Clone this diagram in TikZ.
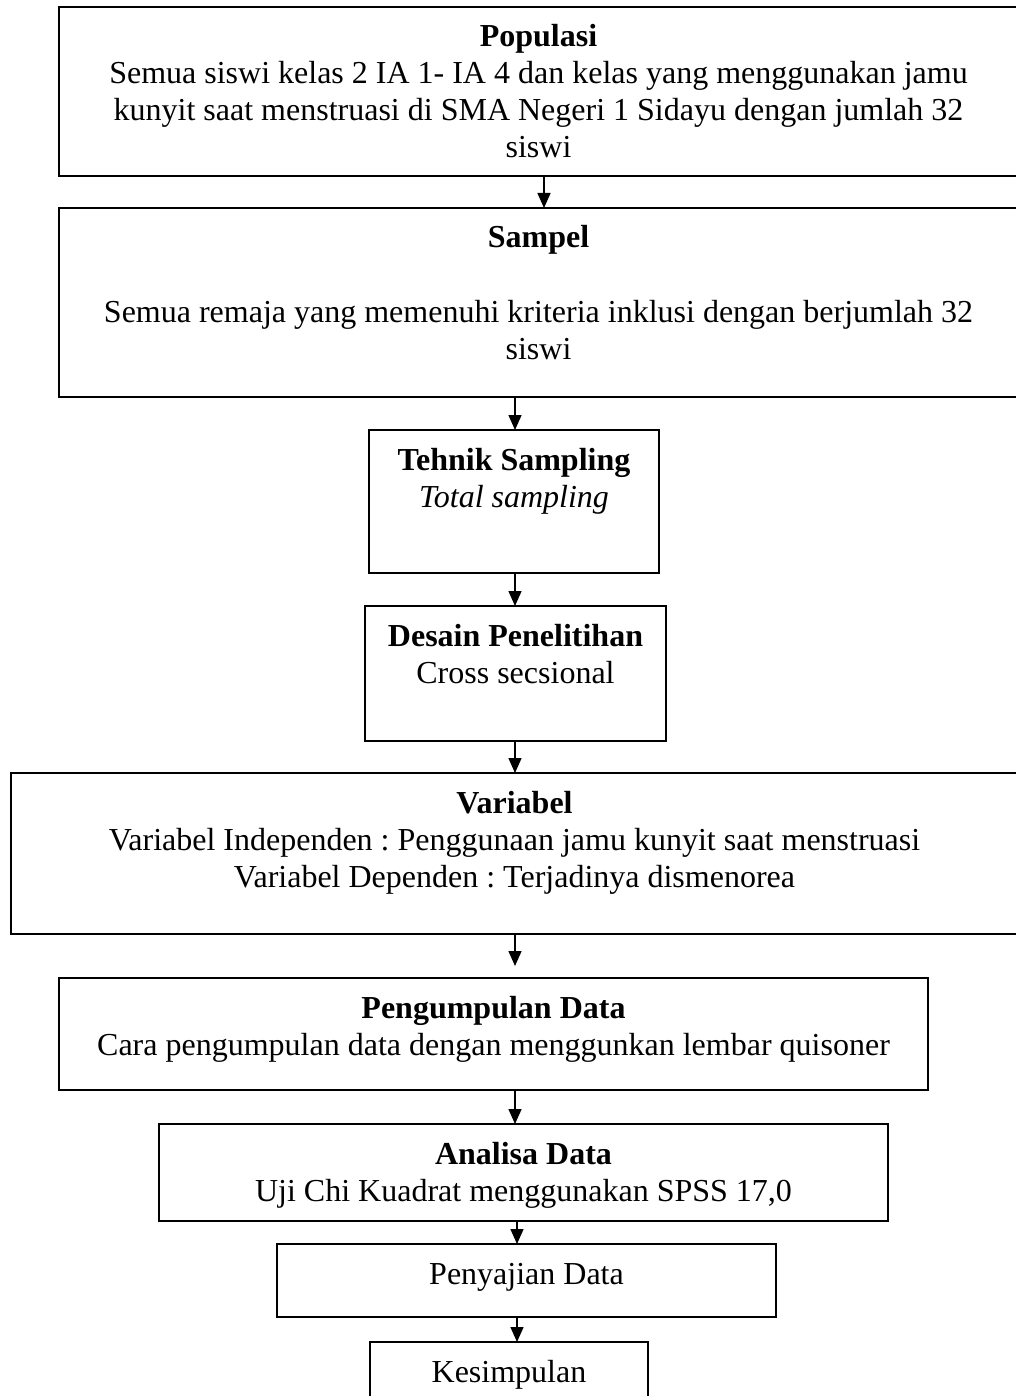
\documentclass[tikz,border=0pt]{standalone}
\usepackage{fontspec}
\setmainfont{Liberation Serif}
\usetikzlibrary{arrows.meta}
\begin{document}
\frenchspacing
\begin{tikzpicture}[x=1pt,y=-1pt,
  box/.style={draw=black, line width=1.5pt, rectangle, inner sep=0pt, outer sep=0pt},
  txt/.style={anchor=base, inner sep=0pt, outer sep=0pt, font=\fontsize{32}{37}\selectfont},
  arr/.style={draw=black, line width=1.5pt, -{Triangle[length=15pt,width=13pt]}}]
\useasboundingbox (0,0) rectangle (1016,1396);
% boxes
\node[box, minimum width=959pt, minimum height=169pt] (pop) at (538.5,91.5) {};
\node[box, minimum width=959pt, minimum height=189pt] (samp) at (538.5,302.5) {};
\node[box, minimum width=290pt, minimum height=143pt] (tek) at (514,501.5) {};
\node[box, minimum width=301pt, minimum height=135pt] (des) at (515.5,673.5) {};
\node[box, minimum width=1007pt, minimum height=161pt] (var) at (514.5,853.5) {};
\node[box, minimum width=869pt, minimum height=112pt] (kum) at (493.5,1034) {};
\node[box, minimum width=729pt, minimum height=97pt] (ana) at (523.5,1172.5) {};
\node[box, minimum width=499pt, minimum height=73pt] (saj) at (526.5,1280.5) {};
\node[box, minimum width=278pt, minimum height=58pt] (kes) at (509,1371) {};
% texts
\node[txt] (popA) at (538.5,47) {\textbf{Populasi}};
\node[txt] (popB) at (538.5,84) {Semua siswi kelas 2 IA 1- IA 4 dan kelas yang menggunakan jamu};
\node[txt] (popC) at (538.5,121) {kunyit saat menstruasi di SMA Negeri 1 Sidayu dengan jumlah 32};
\node[txt] (popD) at (538.5,158) {siswi};
\node[txt] (sampA) at (538.5,248) {\textbf{Sampel}};
\node[txt] (sampB) at (538.5,322) {Semua remaja yang memenuhi kriteria inklusi dengan berjumlah 32};
\node[txt] (sampC) at (538.5,359) {siswi};
\node[txt] (tekA) at (514,470) {\textbf{Tehnik Sampling}};
\node[txt] (tekB) at (514,507) {\textit{Total sampling}};
\node[txt] (desA) at (515.5,646) {\textbf{Desain Penelitihan}};
\node[txt] (desB) at (515.5,683) {Cross secsional};
\node[txt] (varA) at (514.5,813) {\textbf{Variabel}};
\node[txt] (varB) at (514.5,850) {Variabel Independen : Penggunaan jamu kunyit saat menstruasi};
\node[txt] (varC) at (514.5,887) {Variabel Dependen : Terjadinya dismenorea};
\node[txt] (kumA) at (493.5,1018) {\textbf{Pengumpulan Data}};
\node[txt] (kumB) at (493.5,1055) {Cara pengumpulan data dengan menggunkan lembar quisoner};
\node[txt] (anaA) at (523.5,1164) {\textbf{Analisa Data}};
\node[txt] (anaB) at (523.5,1201) {Uji Chi Kuadrat menggunakan SPSS 17,0};
\node[txt] (sajA) at (526.5,1284) {Penyajian Data};
\node[txt] (kesA) at (509,1382) {Kesimpulan};
% arrow columns
\coordinate (c1) at (544,0);
\coordinate (c2) at (515,0);
\coordinate (c3) at (517,0);
% connectors
\draw[arr] (pop.south -| c1) -- (samp.north -| c1);
\draw[arr] (samp.south -| c2) -- (tek.north -| c2);
\draw[arr] (tek.south -| c2) -- (des.north -| c2);
\draw[arr] (des.south -| c2) -- (var.north -| c2);
\draw[arr, shorten >=12pt] (var.south -| c2) -- (kum.north -| c2);
\draw[arr] (kum.south -| c2) -- (ana.north -| c2);
\draw[arr] (ana.south -| c3) -- (saj.north -| c3);
\draw[arr] (saj.south -| c3) -- (kes.north -| c3);
\end{tikzpicture}
\end{document}
